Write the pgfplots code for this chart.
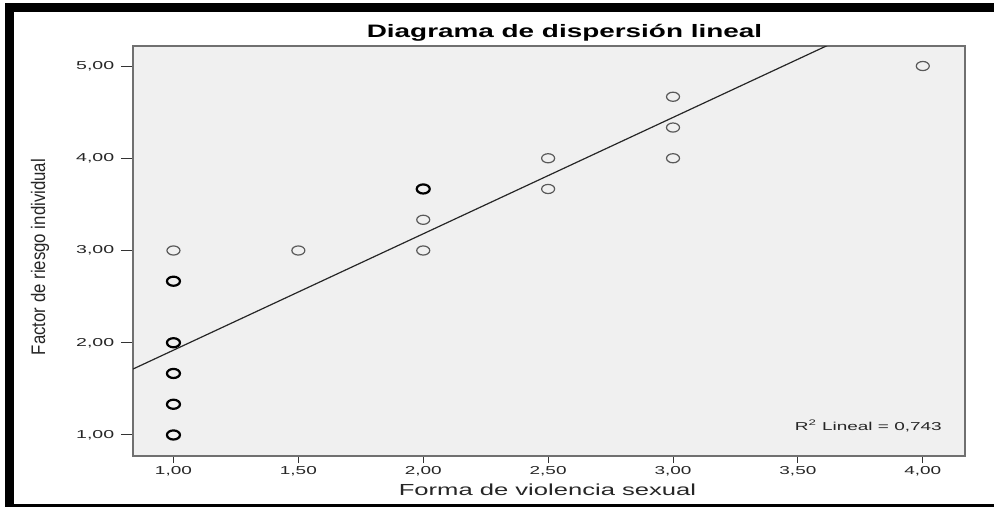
\documentclass[border=0pt]{standalone}
\usepackage{fontspec}
\setmainfont{Liberation Sans}
\usepackage{pgfplots}
\pgfplotsset{compat=1.18}
\definecolor{bgcol}{HTML}{F0F0F0}
\definecolor{framecol}{HTML}{707070}
\begin{document}
\begin{tikzpicture}[x=1pt,y=1pt]
\path[use as bounding box] (0,0) rectangle (994,-507);
\fill[black] (5,-3) rectangle (994,-12);
\fill[black] (5,-3) rectangle (14,-507);
\fill[black] (5,-504) rectangle (994,-507);
\begin{axis}[
  at={(133pt,-456pt)}, anchor=south west,
  scale only axis, width=832pt, height=410pt,
  xmin=0.838, xmax=4.169, ymin=0.772, ymax=5.217,
  axis background/.style={fill=bgcol},
  axis line style={draw=framecol, line width=1.3pt},
  tick pos=left, tick align=outside,
  xtick={1,1.5,...,4}, ytick={1,2,3,4,5},
  xtick style={draw=black!80, line width=1pt, /pgfplots/major tick length=7pt},
  ytick style={draw=black!80, line width=1pt, /pgfplots/major tick length=12pt},
  tick label style={font=\fontsize{11.5}{12}\selectfont, text=black!85},
  /pgf/number format/.cd, fixed, fixed zerofill, precision=2, use comma, assume math mode=true,
  /pgfplots/.cd,
  xticklabel={\scalebox{1.65}[1]{\pgfmathprintnumber{\tick}}},
  yticklabel={\scalebox{1.7}[1]{\pgfmathprintnumber{\tick}}},
  xticklabel style={yshift=-3pt},
  yticklabel style={xshift=-11pt},
  clip=true,
]
\addplot[black!85, line width=1.2pt] coordinates {(0.80,1.667) (3.70,5.326)};
\addplot[only marks, mark=o, mark size=6.5pt, mark options={draw=black!65, line width=1.2pt, yscale=0.7}] coordinates {
(1,3) (1.5,3) (2,3.333) (2,3) (2.5,4) (2.5,3.667) (3,4.667) (3,4.333) (3,4) (4,5)};
\addplot[only marks, mark=o, mark size=6.5pt, mark options={draw=black, line width=2.2pt, yscale=0.7}] coordinates {
(1,2.667) (1,2) (1,1.667) (1,1.333) (1,1) (2,3.667)};
\end{axis}
\node[anchor=base east, font=\fontsize{11.5}{12}\selectfont, text=black!85, inner sep=0pt] at (942,-430) {\scalebox{1.65}[1]{R\textsuperscript{2} Lineal = 0,743}};
\node[font=\fontsize{18}{18}\selectfont\bfseries] at (564.5,-33) {\scalebox{1.55}[1]{Diagrama de dispersión lineal}};
\node[font=\fontsize{16}{16}\selectfont, text=black!85] at (547.5,-490) {\scalebox{1.6}[1]{Forma de violencia sexual}};
\node[font=\fontsize{14}{14}\selectfont, text=black!85, rotate=90] at (40,-257) {\scalebox{1.2}[1.4]{Factor de riesgo individual}};
\end{tikzpicture}
\end{document}
